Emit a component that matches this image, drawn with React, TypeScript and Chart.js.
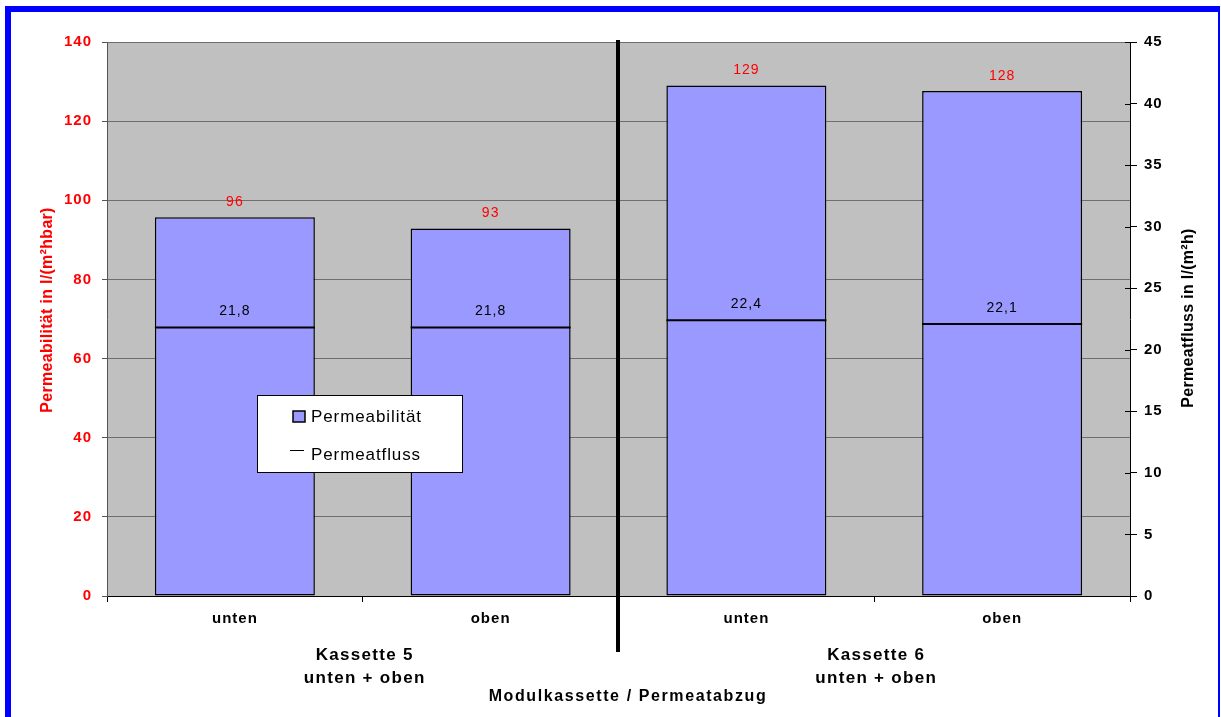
import React, { useEffect, useRef } from "react";
import { Chart, registerables } from "chart.js";

Chart.register(...registerables);

const categories = ["unten", "oben", "unten", "oben"];
const groupLabels = [
  ["Kassette 5", "unten + oben"],
  ["Kassette 6", "unten + oben"],
];
const permeabilitaet = [95.7, 92.9, 129.0, 127.6];
const permeatfluss = [21.8, 21.8, 22.4, 22.1];
const leftAxis = { min: 0, max: 140, step: 20 };
const rightAxis = { min: 0, max: 45, step: 5 };
const leftTitle = "Permeabilität in l/(m²hbar)";
const rightTitle = "Permeatfluss in l/(m²h)";
const xTitle = "Modulkassette / Permeatabzug";
const legendLabels = ["Permeabilität", "Permeatfluss"];

const FONT = "'Liberation Sans', Arial, Helvetica, sans-serif";
const BAR_COLOR = "#9999ff";

function setSpacing(ctx: any, v: string) {
  try {
    ctx.letterSpacing = v;
  } catch (e) {}
}

const decorPlugin = {
  id: "decor",
  beforeDraw(chart: any) {
    const { ctx, chartArea } = chart;
    ctx.save();
    ctx.fillStyle = "#c0c0c0";
    ctx.fillRect(chartArea.left, chartArea.top, chartArea.right - chartArea.left, chartArea.bottom - chartArea.top);
    ctx.restore();
    setSpacing(ctx, "1px");
  },
  afterDatasetsDraw(chart: any) {
    const { ctx } = chart;
    const barMeta = chart.getDatasetMeta(1);
    const lineMeta = chart.getDatasetMeta(0);
    ctx.save();
    setSpacing(ctx, "1px");
    ctx.textAlign = "center";
    ctx.textBaseline = "middle";
    ctx.font = `14px ${FONT}`;
    ctx.fillStyle = "#ff0000";
    barMeta.data.forEach((el: any, i: number) => {
      ctx.fillText(String(Math.round(permeabilitaet[i])), el.x, el.y - 15);
    });
    ctx.fillStyle = "#000000";
    lineMeta.data.forEach((el: any, i: number) => {
      ctx.fillText(permeatfluss[i].toFixed(1).replace(".", ","), el.x, el.y - 16);
    });
    ctx.restore();
  },
  afterDraw(chart: any) {
    const { ctx, chartArea, scales } = chart;
    const xs = scales.x;
    ctx.save();
    setSpacing(ctx, "0px");
    // right axis inner tick marks
    const y1 = scales.y1;
    ctx.strokeStyle = "#000";
    ctx.lineWidth = 1;
    for (let v = rightAxis.min; v <= rightAxis.max; v += rightAxis.step) {
      const y = Math.round(y1.getPixelForValue(v)) + 0.5;
      ctx.beginPath();
      ctx.moveTo(chartArea.right - 5, y);
      ctx.lineTo(chartArea.right, y);
      ctx.stroke();
    }
    // divider
    const mid = (xs.getPixelForValue(1) + xs.getPixelForValue(2)) / 2;
    ctx.fillStyle = "#000";
    ctx.fillRect(Math.round(mid) - 3, 40, 4, 612);

    // group labels
    setSpacing(ctx, "1.3px");
    ctx.textAlign = "center";
    ctx.textBaseline = "middle";
    ctx.font = `bold 17px ${FONT}`;
    groupLabels.forEach((g, gi) => {
      const cx = (xs.getPixelForValue(gi * 2) + xs.getPixelForValue(gi * 2 + 1)) / 2 + 2;
      ctx.fillText(g[0], cx, 655);
      ctx.fillText(g[1], cx, 678);
    });
    setSpacing(ctx, "1.6px");
    ctx.font = `bold 16px ${FONT}`;
    ctx.fillText(xTitle, 628, 697);

    // axis titles
    setSpacing(ctx, "0.3px");
    ctx.save();
    ctx.translate(48, 310);
    ctx.rotate(-Math.PI / 2);
    ctx.fillStyle = "#ff0000";
    ctx.fillText(leftTitle, 0, 0);
    ctx.restore();
    ctx.save();
    ctx.translate(1189, 318);
    ctx.rotate(-Math.PI / 2);
    ctx.fillStyle = "#000";
    ctx.fillText(rightTitle, 0, 0);
    ctx.restore();

    // legend
    ctx.fillStyle = "#fff";
    ctx.fillRect(257, 395, 205, 77);
    ctx.strokeStyle = "#000";
    ctx.lineWidth = 1;
    ctx.strokeRect(257.5, 395.5, 205, 77);
    ctx.fillStyle = BAR_COLOR;
    ctx.fillRect(293, 411, 12, 11);
    ctx.lineWidth = 1.5;
    ctx.strokeRect(293, 411, 12, 11);
    ctx.lineWidth = 1;
    ctx.beginPath();
    ctx.moveTo(290, 450.5);
    ctx.lineTo(304, 450.5);
    ctx.stroke();
    setSpacing(ctx, "0.9px");
    ctx.fillStyle = "#000";
    ctx.textAlign = "left";
    ctx.font = `17px ${FONT}`;
    ctx.fillText(legendLabels[0], 311, 417);
    ctx.fillText(legendLabels[1], 311, 455);

    // blue frame
    ctx.fillStyle = "#0000ff";
    ctx.fillRect(5, 6, 6, 711);
    ctx.fillRect(5, 6, 1215, 6);
    ctx.fillRect(1218, 6, 2, 711);
    ctx.restore();
    setSpacing(ctx, "0px");
  },
};

export default function App() {
  const ref = useRef<HTMLCanvasElement | null>(null);
  useEffect(() => {
    if (!ref.current) return;
    const chart = new Chart(ref.current, {
      type: "bar",
      data: {
        labels: categories,
        datasets: [
          {
            type: "line",
            label: legendLabels[1],
            data: permeatfluss,
            yAxisID: "y1",
            showLine: false,
            pointStyle: "line",
            pointRadius: 80,
            pointHoverRadius: 80,
            pointBorderWidth: 2,
            pointBorderColor: "#000",
            borderColor: "#000",
            clip: false,
            order: 1,
          } as any,
          {
            type: "bar",
            label: legendLabels[0],
            data: permeabilitaet,
            yAxisID: "y",
            backgroundColor: BAR_COLOR,
            borderColor: "#000",
            borderWidth: 1.5,
            borderSkipped: false,
            barPercentage: 0.6256,
            categoryPercentage: 1,
            grouped: false,
            order: 2,
          } as any,
        ],
      },
      options: {
        responsive: false,
        animation: false,
        layout: { autoPadding: false, padding: { top: 42, left: 0, right: 0, bottom: 0 } },
        plugins: { legend: { display: false }, tooltip: { enabled: false } },
        scales: {
          x: {
            offset: true,
            grid: {
              offset: true,
              drawOnChartArea: false,
              tickLength: 6,
              color: "#000",
            },
            border: { color: "#000", width: 1 },
            ticks: {
              color: "#000",
              font: { family: FONT, size: 15, weight: "bold" },
              padding: 8,
              maxRotation: 0,
            },
            afterFit: (s: any) => {
              s.height = 121;
            },
          },
          y: {
            position: "left",
            min: leftAxis.min,
            max: leftAxis.max,
            ticks: {
              stepSize: leftAxis.step,
              color: "#ff0000",
              font: { family: FONT, size: 15, weight: "bold" },
              padding: 10,
            },
            grid: { color: "#6e6e6e", tickLength: 5, tickColor: "#555" },
            border: { color: "#555", width: 1 },
            afterFit: (s: any) => {
              s.width = 107;
            },
          },
          y1: {
            position: "right",
            min: rightAxis.min,
            max: rightAxis.max,
            ticks: {
              stepSize: rightAxis.step,
              color: "#000",
              font: { family: FONT, size: 15, weight: "bold" },
              padding: 7,
            },
            grid: { drawOnChartArea: false, tickLength: 7, tickColor: "#000" },
            border: { color: "#000", width: 1 },
            afterFit: (s: any) => {
              s.width = 91;
            },
          },
        },
      },
      plugins: [decorPlugin],
    } as any);
    return () => chart.destroy();
  }, []);
  return (
    <div style={{ position: "absolute", left: 0, top: 0, width: 1221, height: 717, background: "#fff" }}>
      <canvas ref={ref} width={1221} height={717} style={{ display: "block" }} />
    </div>
  );
}
